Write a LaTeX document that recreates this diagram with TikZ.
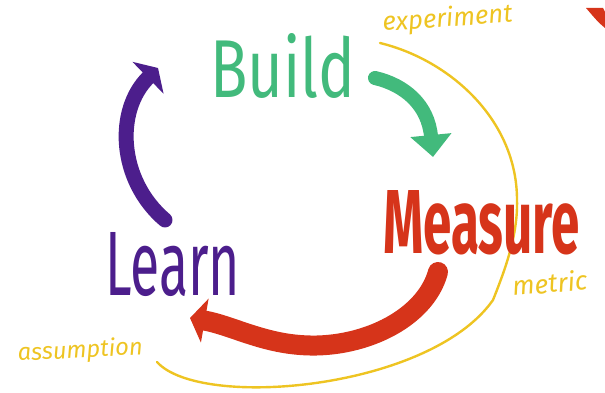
\documentclass[tikz,border=0pt]{standalone}
\usepackage{fontspec}
\setmainfont{Fira Sans}
\usepackage{graphicx}
\usetikzlibrary{positioning, arrows.meta}
\definecolor{buildgreen}{RGB}{66,186,124}
\definecolor{measurered}{RGB}{214,52,26}
\definecolor{learnpurple}{RGB}{76,30,140}
\definecolor{noteyellow}{RGB}{238,196,34}
\tikzstyle{word} = [inner sep=0pt, anchor=base west]
\tikzstyle{note} = [inner sep=0pt, anchor=base west, font=\itshape, text=noteyellow]
\tikzstyle{marker} = [line cap=round, line join=round]

\begin{document}
\begin{tikzpicture}[x=1pt, y=-1pt]
  \useasboundingbox (0,0) rectangle (605,393);

  % Yellow loop of notes
  \coordinate (e1) at (380,43);
  \coordinate (m1) at (517,200);
  \coordinate (m2) at (493,300);
  \coordinate (a1) at (157,362);
  \draw[noteyellow, line width=2.4pt, marker] (e1) .. controls (450,60) and (517,120) .. (m1)
    .. controls (518,235) and (505,270) .. (m2)
    .. controls (430,390) and (200,410) .. (a1);

  % Words
  \node[word, text=buildgreen] (build) at (210,98) {\resizebox{145pt}{64pt}{Build}};
  \node[word, text=measurered, font=\bfseries] (measure) at (383,253) {\resizebox{197pt}{63pt}{Measure}};
  \node[word, text=learnpurple] (learn) at (105,295) {\resizebox{135pt}{63pt}{Learn}};

  % Notes
  \node[note, rotate=4] (experiment) at (383,31) {\resizebox{130pt}{!}{experiment}};
  \node[note, rotate=5] (metric) at (513,296) {\resizebox{75pt}{!}{metric}};
  \node[note, rotate=3] (assumption) at (18,361) {\resizebox{125pt}{!}{assumption}};

  % Arrows of the loop
  \coordinate (lt) at (165,220);
  \coordinate (bh) at (158,68);
  \draw[learnpurple, line width=15pt, marker, -{Triangle[length=14pt, width=44pt]}]
    (lt) .. controls (118,180) and (115,110) .. (bh);
  \coordinate (bt) at (375,78);
  \coordinate (mh) at (433,157);
  \draw[buildgreen, line width=14pt, marker, -{Triangle[length=22pt, width=40pt]}]
    (bt) .. controls (405,85) and (428,105) .. (mh);
  \coordinate (mt) at (438,272);
  \coordinate (lh) at (190,318);
  \draw[measurered, line width=20pt, marker, -{Triangle[length=15pt, width=44pt]}]
    (mt) .. controls (425,320) and (360,350) .. (300,345)
    .. controls (260,342) and (230,325) .. (lh);

  % Corner mark
  \fill[measurered] (586,8) -- (603,8) -- (605,12) -- (605,28) .. controls (598,22) .. (586,8);
\end{tikzpicture}
\end{document}
